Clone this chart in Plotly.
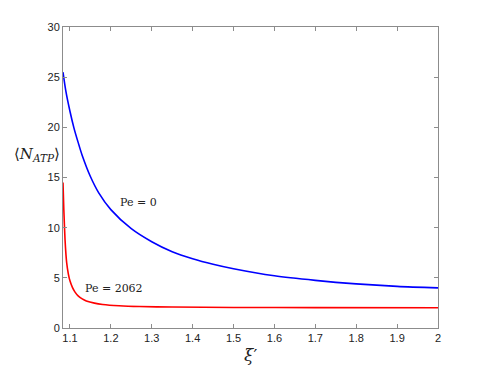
import plotly.graph_objects as go

# values
xi_pe0 = [1.083, 1.09, 1.1, 1.11, 1.12, 1.13, 1.15, 1.17, 1.2, 1.25, 1.3, 1.35,
          1.4, 1.45, 1.5, 1.6, 1.7, 1.8, 1.9, 2.0]
n_pe0 = [25.5, 23.6, 21.6, 19.9, 18.5, 17.2, 15.1, 13.5, 11.8, 9.9, 8.6, 7.6,
         6.9, 6.35, 5.9, 5.2, 4.75, 4.4, 4.15, 4.0]

xi_pe2062 = [1.083, 1.085, 1.088, 1.092, 1.096, 1.1, 1.106, 1.112, 1.12, 1.13,
             1.14, 1.16, 1.18, 1.22, 1.27, 1.35, 1.5, 1.7, 2.0]
n_pe2062 = [14.5, 11.8, 8.8, 6.5, 5.4, 4.7, 4.05, 3.6, 3.2, 2.9,
            2.7, 2.48, 2.35, 2.22, 2.14, 2.09, 2.05, 2.03, 2.02]

x_ticks = [1.1, 1.2, 1.3, 1.4, 1.5, 1.6, 1.7, 1.8, 1.9, 2]
x_tick_labels = ["1.1", "1.2", "1.3", "1.4", "1.5", "1.6", "1.7", "1.8", "1.9", "2"]
y_ticks = [0, 5, 10, 15, 20, 25, 30]

fig = go.Figure()

fig.add_trace(go.Scatter(
    x=xi_pe0, y=n_pe0, mode="lines",
    line=dict(color="#0000ff", width=1.6, shape="spline", smoothing=0.8),
    hoverinfo="none"
))
fig.add_trace(go.Scatter(
    x=xi_pe2062, y=n_pe2062, mode="lines",
    line=dict(color="#ff0000", width=1.6, shape="spline", smoothing=0.6),
    hoverinfo="none"
))

serif = "DejaVu Serif"
axis_style = dict(
    showline=True, linecolor="#8c8c8c", linewidth=1, mirror="ticks",
    ticks="inside", ticklen=4, tickcolor="#8c8c8c",
    showgrid=False, zeroline=False,
    tickfont=dict(family="Liberation Sans", size=11, color="#222222"),
)

# the page body adds an 8px margin, so the figure is a bit smaller than the window
fig.update_layout(
    width=477, height=361,
    plot_bgcolor="white", paper_bgcolor="white",
    showlegend=False,
    margin=dict(l=55, r=47, t=19, b=41),
    xaxis=dict(range=[1.083, 2.0], tickvals=x_ticks, ticktext=x_tick_labels, **axis_style),
    yaxis=dict(range=[0, 30], tickvals=y_ticks, **axis_style),
    annotations=[
        dict(text="Pe = 0", x=1.218, y=12.5, xref="x", yref="y",
             xanchor="left", showarrow=False,
             font=dict(family=serif, size=11, color="#222222")),
        dict(text="Pe = 2062", x=1.132, y=3.9, xref="x", yref="y",
             xanchor="left", showarrow=False,
             font=dict(family=serif, size=11, color="#222222")),
        dict(text="⟨<i>N</i><sub><i>ATP</i></sub>⟩", x=-0.002, y=0.578,
             xref="paper", yref="paper", xanchor="right", yanchor="middle",
             showarrow=False, font=dict(family=serif, size=15, color="#222222")),
        dict(text="<i>ξ</i>′", x=0.5, y=-0.128, xref="paper", yref="paper",
             xanchor="center", yanchor="bottom", showarrow=False,
             font=dict(family=serif, size=17, color="#222222")),
    ],
)

fig.write_html("out.html")
